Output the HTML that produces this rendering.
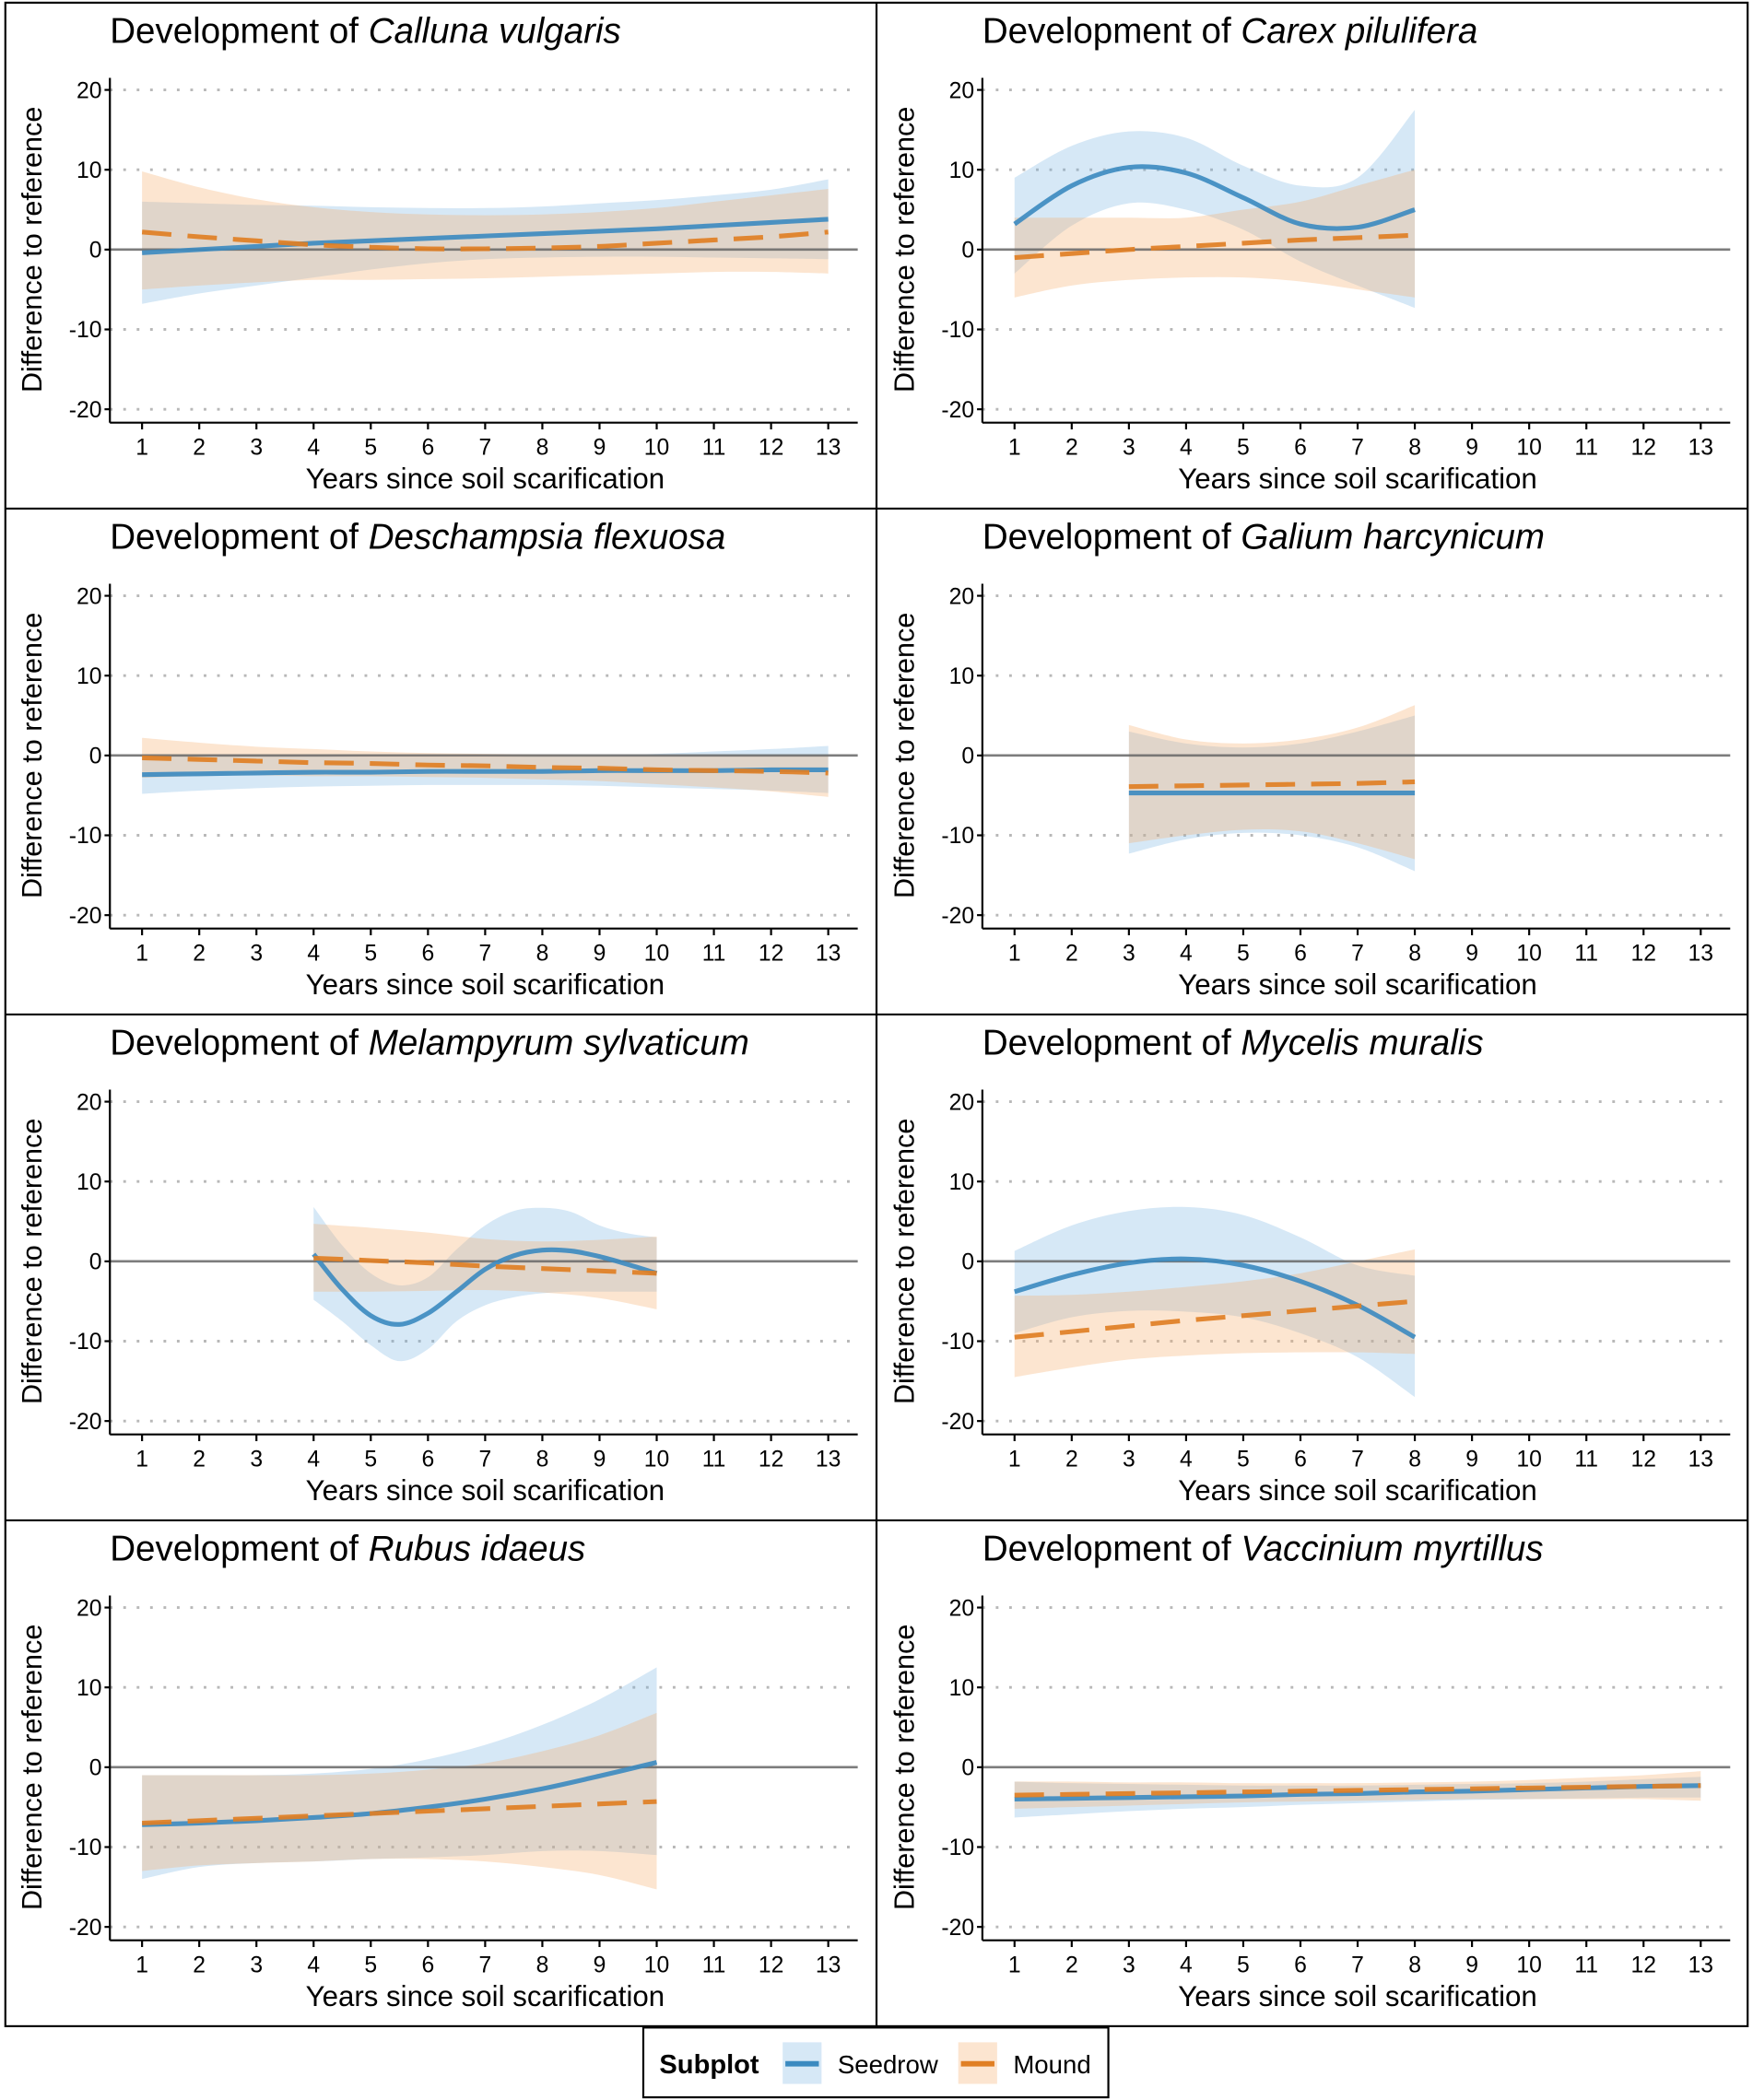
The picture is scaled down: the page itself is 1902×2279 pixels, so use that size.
<!DOCTYPE html>
<html><head><meta charset="utf-8">
<style>
html,body{margin:0;padding:0;background:#fff;}
svg{display:block;}
text{font-family:"Liberation Sans",Arial,sans-serif;fill:#000;}
</style></head>
<body>
<svg id="chart" width="1902" height="2279" viewBox="0 0 1308 1565" preserveAspectRatio="none" xmlns="http://www.w3.org/2000/svg"></svg>
<script>
// ---- data ----
const titles = [["Development of ","Calluna vulgaris"],["Development of ","Carex pilulifera"],["Development of ","Deschampsia flexuosa"],["Development of ","Galium harcynicum"],["Development of ","Melampyrum sylvaticum"],["Development of ","Mycelis muralis"],["Development of ","Rubus idaeus"],["Development of ","Vaccinium myrtillus"]];
const xTicks = [1,2,3,4,5,6,7,8,9,10,11,12,13];
const yTicks = [20,10,0,-10,-20];
const yTickLabels = ["20","10","0","-10","-20"];
// Seedrow x / mean / lower / upper per panel
const sX = [
 [1,2,3,4,5,6,7,8,9,10,11,12,13],
 [1,2,3,4,5,6,7,8],
 [1,2,3,4,5,6,7,8,9,10,11,12,13],
 [3,4,5,6,7,8],
 [4,4.5,5,5.5,6,6.5,7,7.5,8,8.5,9,9.5,10],
 [1,2,3,4,5,6,7,8],
 [1,2,3,4,5,6,7,8,9,10],
 [1,2,3,4,5,6,7,8,9,10,11,12,13]];
const sMean = [
 [-0.4,0,0.4,0.8,1.1,1.4,1.7,2.0,2.3,2.6,3.0,3.4,3.8],
 [3.2,8,10.3,9.6,6.5,3.2,2.8,5],
 [-2.4,-2.3,-2.2,-2.1,-2.1,-2,-2,-2,-1.9,-1.9,-1.9,-1.8,-1.8],
 [-4.7,-4.7,-4.7,-4.7,-4.7,-4.7],
 [0.9,-3.5,-6.8,-7.9,-6.5,-3.8,-1,0.7,1.4,1.3,0.6,-0.4,-1.5],
 [-3.8,-1.7,-0.2,0.3,-0.5,-2.5,-5.5,-9.5],
 [-7.2,-7,-6.7,-6.3,-5.8,-5,-4,-2.7,-1.1,0.6],
 [-4,-3.9,-3.8,-3.7,-3.6,-3.4,-3.3,-3.1,-3,-2.8,-2.6,-2.4,-2.3]];
const sLow = [
 [-6.8,-5.5,-4.5,-3.5,-2.5,-1.7,-1.2,-1,-0.9,-0.9,-1,-1.1,-1.2],
 [-3,3,5.8,5,2.5,-1.5,-4.5,-7.3],
 [-4.8,-4.4,-4.1,-3.9,-3.8,-3.7,-3.7,-3.7,-3.8,-4,-4.2,-4.4,-4.7],
 [-12.3,-10.5,-9.7,-10,-11.5,-14.5],
 [-4.8,-7.5,-10.5,-12.5,-11,-7.5,-5.5,-4.5,-4,-3.8,-3.8,-3.8,-3.8],
 [-9,-7,-6.2,-6.3,-7,-9,-12,-17],
 [-14,-12.5,-12,-11.8,-11.5,-11.3,-11,-10.5,-10.5,-11],
 [-6.3,-5.9,-5.5,-5.2,-5,-4.7,-4.5,-4.3,-4.1,-4,-3.9,-3.8,-3.8]];
const sUp = [
 [6,5.8,5.6,5.5,5.3,5.2,5.2,5.4,5.8,6.2,6.8,7.5,8.8],
 [9,13,14.8,14,10.5,8,9,17.5],
 [0,0,0,-0.1,-0.2,-0.2,-0.2,-0.1,0,0.2,0.5,0.8,1.2],
 [3,1.5,1,1.5,3,5],
 [6.8,2,-1.5,-3,-2,1.5,4.5,6.3,6.7,6.2,4.5,3.5,3],
 [1.3,4.5,6.3,6.8,5.8,3,-0.5,-1.8],
 [-1,-1,-1,-0.8,-0.2,1,2.8,5.3,8.5,12.5],
 [-1.8,-2,-2.1,-2.2,-2.3,-2.3,-2.3,-2.2,-2.1,-2,-1.8,-1.5,-1.2]];
// Mound
const mX = [
 [1,2,3,4,5,6,7,8,9,10,11,12,13],
 [1,2,3,4,5,6,7,8],
 [1,2,3,4,5,6,7,8,9,10,11,12,13],
 [3,4,5,6,7,8],
 [4,5,6,7,8,9,10],
 [1,2,3,4,5,6,7,8],
 [1,2,3,4,5,6,7,8,9,10],
 [1,2,3,4,5,6,7,8,9,10,11,12,13]];
const mMean = [
 [2.2,1.6,1.1,0.6,0.3,0.1,0.1,0.2,0.4,0.8,1.2,1.6,2.2],
 [-1,-0.5,0,0.4,0.8,1.2,1.5,1.8],
 [-0.3,-0.5,-0.7,-0.9,-1.0,-1.2,-1.3,-1.5,-1.6,-1.8,-1.9,-2.0,-2.2],
 [-3.9,-3.8,-3.7,-3.6,-3.5,-3.3],
 [0.4,0.1,-0.2,-0.6,-0.9,-1.2,-1.5],
 [-9.5,-8.8,-8.1,-7.4,-6.8,-6.2,-5.6,-5],
 [-7,-6.7,-6.4,-6.1,-5.8,-5.5,-5.2,-4.9,-4.6,-4.3],
 [-3.5,-3.4,-3.3,-3.2,-3.1,-3,-2.9,-2.8,-2.7,-2.6,-2.5,-2.4,-2.3]];
const mLow = [
 [-5,-4.5,-4.1,-3.8,-3.8,-3.7,-3.6,-3.4,-3.2,-3,-2.8,-2.8,-3],
 [-6,-4.5,-3.8,-3.5,-3.5,-4,-5,-6],
 [-2.8,-2.6,-2.5,-2.6,-2.6,-2.7,-2.8,-3,-3.2,-3.6,-4,-4.5,-5.2],
 [-11,-10,-9.3,-9.5,-11,-13],
 [-3.8,-3.8,-3.7,-3.6,-3.9,-4.6,-6],
 [-14.5,-13.3,-12.3,-11.8,-11.5,-11.4,-11.4,-11.6],
 [-13,-12.3,-12,-11.8,-11.5,-11.5,-11.8,-12.5,-13.5,-15.3],
 [-5.2,-5,-4.8,-4.6,-4.4,-4.3,-4.2,-4.1,-4,-4,-4,-4,-4.2]];
const mUp = [
 [9.8,7.8,6.3,5.3,4.7,4.4,4.3,4.4,4.7,5.2,6,6.8,7.6],
 [4,4,4,4,5,6,8,10],
 [2.2,1.6,1.1,0.8,0.5,0.3,0.2,0.1,0,0,0,0,0],
 [3.8,2,1.5,2,3.5,6.3],
 [4.7,4.2,3.6,2.8,2.5,2.7,3.1],
 [-4.3,-4.2,-3.8,-3.2,-2.5,-1.5,0,1.5],
 [-1,-1,-1,-1,-0.8,-0.3,0.5,2,4,6.8],
 [-1.8,-1.8,-1.9,-1.9,-2,-2,-2,-1.9,-1.8,-1.6,-1.3,-1,-0.5]];

const NS = "http://www.w3.org/2000/svg";
const svg = document.getElementById('chart');
function el(tag, attrs, parent){const e=document.createElementNS(NS,tag);for(const k in attrs)e.setAttribute(k,attrs[k]);(parent||svg).appendChild(e);return e;}
function smooth(pts){
  let d="M"+pts[0][0]+","+pts[0][1];
  for(let i=0;i<pts.length-1;i++){
    const p0=pts[Math.max(0,i-1)],p1=pts[i],p2=pts[i+1],p3=pts[Math.min(pts.length-1,i+2)];
    const c1=[p1[0]+(p2[0]-p0[0])/6,p1[1]+(p2[1]-p0[1])/6];
    const c2=[p2[0]-(p3[0]-p1[0])/6,p2[1]-(p3[1]-p1[1])/6];
    d+=" C"+c1[0]+","+c1[1]+" "+c2[0]+","+c2[1]+" "+p2[0]+","+p2[1];
  }
  return d;
}
function band(xs,lo,hi,X,Y){
  const top=xs.map((x,i)=>[X(x),Y(hi[i])]);
  const bot=xs.map((x,i)=>[X(x),Y(lo[i])]).reverse();
  return smooth(top)+" L"+bot[0][0]+","+bot[0][1]+smooth(bot).replace(/^M[^ C]+/,"")+" Z";
}

el('rect',{x:4,y:2,width:1300,height:1508,fill:'none',stroke:'#000','stroke-width':1.5});
el('line',{x1:654,y1:2,x2:654,y2:1510,stroke:'#000','stroke-width':1.5});
[379,756,1133].forEach(y=>{el('line',{x1:4,y1:y,x2:1304,y2:y,stroke:'#000','stroke-width':1.5});});

for(let p=0;p<8;p++){
  const ox=(p%2)*651, oy=Math.floor(p/2)*377;
  const g=el('g',{});
  
  
  const X=x=>ox+106+(x-1)*(512/12);
  const Y=v=>oy+186-v*5.95;
  const axL=ox+82, axR=ox+640, axB=oy+315, axT=oy+58;
  const t=el('text',{x:ox+82,y:oy+32,'font-size':26.5},g);
  
  
  const t1=document.createElementNS(NS,'tspan');t1.textContent=titles[p][0];t.appendChild(t1);
  const t2=document.createElementNS(NS,'tspan');t2.setAttribute('font-style','italic');t2.textContent=titles[p][1];t.appendChild(t2);
  yTicks.forEach((v,i)=>{
    if(v!==0){
      const gl=el('line',{x1:axL,x2:axR,y1:Y(v),y2:Y(v),stroke:'#b8b8b8','stroke-width':2,'stroke-dasharray':'2,8'},g);
      
      
    }
    const tl=el('text',{x:axL-6,y:Y(v)+6,'font-size':17,'text-anchor':'end'},g);
    tl.textContent=yTickLabels[i];
    
    
    el('line',{x1:axL-4,x2:axL,y1:Y(v),y2:Y(v),stroke:'#000','stroke-width':1.5},g);
  });
  const sb=el('path',{d:band(sX[p],sLow[p],sUp[p],X,Y),fill:'rgb(120,180,225)','fill-opacity':0.3},g);
  
  
  const mb=el('path',{d:band(mX[p],mLow[p],mUp[p],X,Y),fill:'rgb(245,175,110)','fill-opacity':0.32},g);
  
  
  const zl=el('line',{x1:axL,x2:axR,y1:Y(0),y2:Y(0),stroke:'#666','stroke-width':1.8,'stroke-opacity':0.85},g);
  
  
  const sl=el('path',{d:smooth(sX[p].map((x,i)=>[X(x),Y(sMean[p][i])])),fill:'none',stroke:'#3b8ac0','stroke-width':3.5,'stroke-opacity':0.9},g);
  
  
  const ml=el('path',{d:smooth(mX[p].map((x,i)=>[X(x),Y(mMean[p][i])])),fill:'none',stroke:'#e07f24','stroke-width':3.5,'stroke-dasharray':'22,12','stroke-opacity':0.92},g);
  
  
  el('line',{x1:axL,x2:axL,y1:axT,y2:axB,stroke:'#000','stroke-width':1.5},g);
  el('line',{x1:axL,x2:axR,y1:axB,y2:axB,stroke:'#000','stroke-width':1.5},g);
  xTicks.forEach(v=>{
    el('line',{x1:X(v),x2:X(v),y1:axB,y2:axB+5,stroke:'#000','stroke-width':1.5},g);
    const xl=el('text',{x:X(v),y:oy+339,'font-size':17,'text-anchor':'middle'},g);
    xl.textContent=v;
    
    
  });
  const xt=el('text',{x:ox+362,y:oy+364,'font-size':21.5,'text-anchor':'middle'},g);
  xt.textContent='Years since soil scarification';
  
  
  const yt=el('text',{x:0,y:0,'font-size':21,'text-anchor':'middle',transform:'translate('+(ox+31)+','+(oy+186)+') rotate(-90)'},g);
  yt.textContent='Difference to reference';
  
  
}
// legend
const lg=el('g',{});


el('rect',{x:480,y:1511,width:347,height:52,fill:'#fff',stroke:'#000','stroke-width':1.5},lg);
const lt=el('text',{x:492,y:1545,'font-size':20,'font-weight':'bold'},lg);lt.textContent='Subplot';
el('rect',{x:584,y:1522,width:29,height:31,fill:'rgb(120,180,225)','fill-opacity':0.3},lg);
el('line',{x1:586,x2:611,y1:1538,y2:1538,stroke:'#3b8ac0','stroke-width':4},lg);
const l1=el('text',{x:625,y:1545,'font-size':19},lg);l1.textContent='Seedrow';


el('rect',{x:715,y:1522,width:29,height:31,fill:'rgb(245,175,110)','fill-opacity':0.32},lg);
el('line',{x1:717,x2:742,y1:1538,y2:1538,stroke:'#e07f24','stroke-width':4},lg);
const l2=el('text',{x:756,y:1545,'font-size':19},lg);l2.textContent='Mound';


</script>
</body></html>
